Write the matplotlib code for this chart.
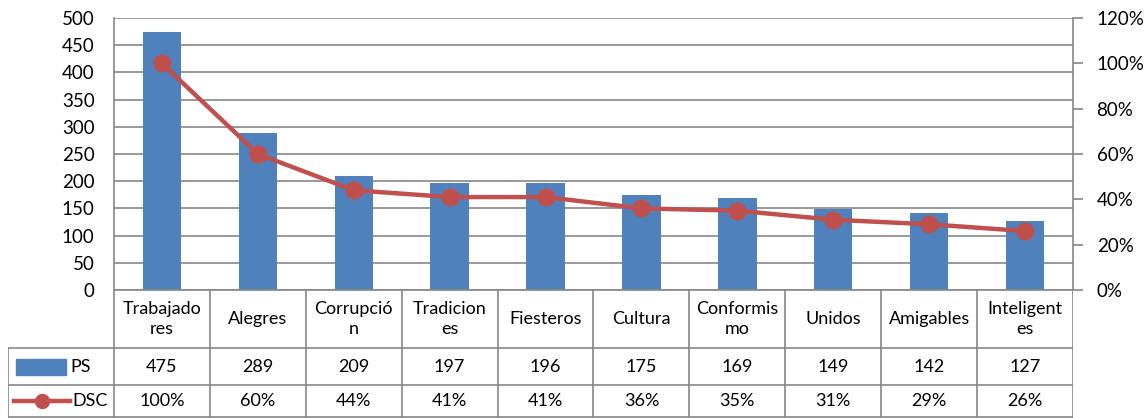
import matplotlib
matplotlib.use("Agg")
import matplotlib.pyplot as plt
from matplotlib.patches import Rectangle
from matplotlib.lines import Line2D
from matplotlib.ticker import FuncFormatter, MultipleLocator

plt.rcParams['font.family'] = ['Lato', 'DejaVu Sans']

# data
categories = ["Trabajado\nres", "Alegres", "Corrupció\nn", "Tradicion\nes", "Fiesteros",
              "Cultura", "Conformis\nmo", "Unidos", "Amigables", "Inteligent\nes"]
ps_values = [475, 289, 209, 197, 196, 175, 169, 149, 142, 127]
dsc_values = [100, 60, 44, 41, 41, 36, 35, 31, 29, 26]

BAR = '#4F81BD'
LINE = '#C0504D'
GRID = '#868686'
FS = 13

W, H = 1144, 418
fig = plt.figure(figsize=(W / 100, H / 100), dpi=100)

# plot area in pixels
px_left, px_right, px_top, px_bot = 114, 1073, 18, 290
ax = fig.add_axes([px_left / W, 1 - px_bot / H, (px_right - px_left) / W, (px_bot - px_top) / H])
n = len(categories)
xs = list(range(n))
ax.bar(xs, ps_values, width=0.4, color=BAR, zorder=2)
ax.set_xlim(-0.5, n - 0.5)
ax.set_ylim(0, 500)
ax.yaxis.set_major_locator(MultipleLocator(50))
ax.grid(axis='y', color=GRID, linewidth=1.2, zorder=0)
ax.set_xticks([])
ax.tick_params(axis='y', length=0, labelsize=13.5, pad=14)
for s in ['top', 'right']:
    ax.spines[s].set_visible(False)
for s in ['left', 'bottom']:
    ax.spines[s].set_color(GRID)
    ax.spines[s].set_linewidth(1.2)

ax2 = ax.twinx()
ax2.plot(xs, dsc_values, color=LINE, linewidth=3.2, marker='o', markersize=12, zorder=3)
ax2.set_ylim(0, 120)
ax2.yaxis.set_major_locator(MultipleLocator(20))
ax2.yaxis.set_major_formatter(FuncFormatter(lambda v, p: f"{int(v)}%"))
ax2.tick_params(axis='y', length=7, width=1.2, color=GRID, labelsize=13.5, pad=10)
for s in ['top', 'left', 'bottom']:
    ax2.spines[s].set_visible(False)
ax2.spines['right'].set_color(GRID)
ax2.spines['right'].set_linewidth(1.2)

# data table below the plot
tl, tr = 8, px_right
tax = fig.add_axes([tl / W, 0, (tr - tl) / W, (H - px_bot) / H])
col_w = (px_right - px_left) / n
x0 = -0.5 - (px_left - tl) / col_w
tax.set_xlim(x0, n - 0.5)
tax.set_ylim(0, H - px_bot)
tax.axis('off')

top = H - px_bot
r1 = H - 348
r2 = H - 385
bot = 0.8
lw = 1.2
# horizontal lines
tax.plot([x0, n - 0.5], [r1, r1], color=GRID, lw=lw)
tax.plot([x0, n - 0.5], [r2, r2], color=GRID, lw=lw)
tax.plot([x0, n - 0.5], [bot, bot], color=GRID, lw=lw)
# vertical lines
for i in range(n + 1):
    tax.plot([i - 0.5, i - 0.5], [bot, top], color=GRID, lw=lw)
tax.plot([x0, x0], [bot, r1], color=GRID, lw=lw)

for i, cat in enumerate(categories):
    tax.text(i, (top + r1) / 2, cat, ha='center', va='center', fontsize=FS, linespacing=1.25)
    tax.text(i, (r1 + r2) / 2, str(ps_values[i]), ha='center', va='center', fontsize=FS)
    tax.text(i, (r2 + bot) / 2, f"{dsc_values[i]}%", ha='center', va='center', fontsize=FS)

# legend keys
kx0 = x0 + 8 / col_w
kx1 = x0 + 58 / col_w
ym = (r1 + r2) / 2
tax.add_patch(Rectangle((kx0, ym - 8), kx1 - kx0, 16, color=BAR))
tax.text(kx1 + 4 / col_w, ym, "PS", ha='left', va='center', fontsize=FS)
ym2 = (r2 + bot) / 2
lx0 = x0 + 6 / col_w
lx1 = x0 + 62 / col_w
tax.add_line(Line2D([lx0, lx1], [ym2, ym2], color=LINE, lw=3.2))
tax.plot([(lx0 + lx1) / 2], [ym2], marker='o', color=LINE, markersize=10)
tax.text(lx1 + 2 / col_w, ym2, "DSC", ha='left', va='center', fontsize=FS)

fig.savefig("out.png", dpi=100)
